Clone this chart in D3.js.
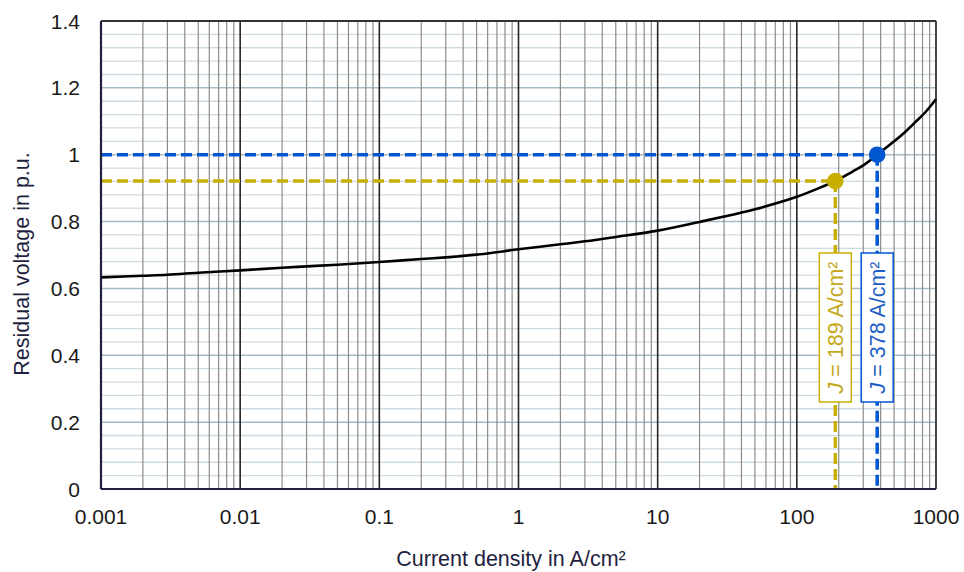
<!DOCTYPE html>
<html>
<head>
<meta charset="utf-8">
<script src="https://cdn.jsdelivr.net/npm/d3@7"></script>
<style>
  body { margin: 0; background: #fff; }
  svg { display: block; font-family: "Liberation Sans", Arial, sans-serif; }
</style>
</head>
<body>
<svg id="chart" width="964" height="572"></svg>
<script>
// ---- data ----
const currentDensity = [0.001, 0.002, 0.003, 0.005, 0.01, 0.02, 0.03, 0.05, 0.1, 0.2, 0.3, 0.5, 1, 2, 3, 5, 10, 20, 30, 50, 100, 150, 189, 250, 300, 378, 500, 600, 700, 850, 1000];
const residualVoltage = [0.633, 0.638, 0.641, 0.647, 0.654, 0.662, 0.666, 0.671, 0.679, 0.688, 0.693, 0.701, 0.717, 0.732, 0.741, 0.754, 0.773, 0.799, 0.815, 0.837, 0.874, 0.903, 0.921, 0.949, 0.968, 1.0, 1.04, 1.068, 1.095, 1.13, 1.166];
const markerJ = [189, 378];
const markerU = [0.921, 1.0];
const markerLabels = ["189", "378"];
const markerColors = ["#c8b000", "#0057cf"];
const markerTextColors = ["#c4a91c", "#1e5fc4"];
const xTickValues = [0.001, 0.01, 0.1, 1, 10, 100, 1000];
const xTickLabels = ["0.001", "0.01", "0.1", "1", "10", "100", "1000"];
const yTickValues = [0, 0.2, 0.4, 0.6, 0.8, 1, 1.2, 1.4];
const yTickLabels = ["0", "0.2", "0.4", "0.6", "0.8", "1", "1.2", "1.4"];

// ---- layout ----
const svg = d3.select("#chart");
const L = 101, R = 936, T = 21, B = 489;
const x = d3.scaleLog().domain([0.001, 1000]).range([L, R]);
const y = d3.scaleLinear().domain([0, 1.4]).range([B, T]);

// horizontal grid: minor every 0.04, major every 0.2
const hMinor = d3.range(0, 1.4001, 0.04).filter(v => Math.abs(v / 0.2 - Math.round(v / 0.2)) > 1e-6);
svg.append("g").selectAll("line").data(hMinor).join("line")
  .attr("x1", L).attr("x2", R).attr("y1", d => y(d)).attr("y2", d => y(d))
  .attr("stroke", "#cfdbe3").attr("stroke-width", 1.3);
svg.append("g").selectAll("line").data(yTickValues.slice(1, -1)).join("line")
  .attr("x1", L).attr("x2", R).attr("y1", d => y(d)).attr("y2", d => y(d))
  .attr("stroke", "#a6bac6").attr("stroke-width", 1.5);

// vertical grid: minor 2..9 per decade, major at decades
const vMinor = [];
for (let e = -3; e < 3; e++) for (let m = 2; m <= 9; m++) vMinor.push(m * Math.pow(10, e));
svg.append("g").selectAll("line").data(vMinor).join("line")
  .attr("x1", d => x(d)).attr("x2", d => x(d)).attr("y1", T).attr("y2", B)
  .attr("stroke", "#8c8c8c").attr("stroke-width", 1.2);
svg.append("g").selectAll("line").data(xTickValues.slice(1, -1)).join("line")
  .attr("x1", d => x(d)).attr("x2", d => x(d)).attr("y1", T).attr("y2", B)
  .attr("stroke", "#262626").attr("stroke-width", 1.6);

// frame
svg.append("line").attr("x1", L).attr("x2", R).attr("y1", T).attr("y2", T).attr("stroke", "#333").attr("stroke-width", 1.8);
svg.append("line").attr("x1", R).attr("x2", R).attr("y1", T).attr("y2", B).attr("stroke", "#333").attr("stroke-width", 1.8);

// dashed guide lines
const pts = markerJ.map((j, i) => ({ j, u: markerU[i], label: markerLabels[i], c: markerColors[i], tc: markerTextColors[i] }));
const guides = svg.append("g");
pts.forEach(p => {
  guides.append("line").attr("x1", L).attr("x2", x(p.j)).attr("y1", y(p.u)).attr("y2", y(p.u))
    .attr("stroke", p.c).attr("stroke-width", 3.5).attr("stroke-dasharray", "11,5");
  guides.append("line").attr("x1", x(p.j)).attr("x2", x(p.j)).attr("y1", y(p.u)).attr("y2", B)
    .attr("stroke", p.c).attr("stroke-width", 3.5).attr("stroke-dasharray", "11,5");
});

// axes lines (left & bottom)
svg.append("line").attr("x1", L).attr("x2", L).attr("y1", T).attr("y2", B).attr("stroke", "#1f1f3f").attr("stroke-width", 2.2);
svg.append("line").attr("x1", L).attr("x2", R).attr("y1", B).attr("y2", B).attr("stroke", "#1f1f3f").attr("stroke-width", 2.2);

// curve
const line = d3.line().x(d => x(d[0])).y(d => y(d[1])).curve(d3.curveMonotoneX);
svg.append("path").datum(currentDensity.map((c, i) => [c, residualVoltage[i]]))
  .attr("d", line).attr("fill", "none").attr("stroke", "#000").attr("stroke-width", 2.6);

// markers
svg.append("g").selectAll("circle").data(pts).join("circle")
  .attr("cx", d => x(d.j)).attr("cy", d => y(d.u)).attr("r", 8.3).attr("fill", d => d.c);

// label boxes
const boxTop = 253, boxBot = 402, boxW = 32;
pts.forEach(p => {
  const cx = x(p.j);
  svg.append("rect").attr("x", cx - boxW / 2).attr("y", boxTop).attr("width", boxW).attr("height", boxBot - boxTop)
    .attr("fill", "#fff").attr("stroke", p.c).attr("stroke-width", 1.5);
  const t = svg.append("text")
    .attr("transform", `translate(${cx + 7.8},${(boxTop + boxBot) / 2}) rotate(-90)`)
    .attr("text-anchor", "middle").attr("font-size", 21.5).attr("fill", p.tc);
  t.append("tspan").attr("font-style", "italic").text("J");
  t.append("tspan").text(` = ${p.label} A/cm²`);
});

// tick labels
svg.append("g").selectAll("text").data(yTickValues).join("text")
  .attr("x", 80).attr("y", d => y(d)).attr("dy", "0.36em").attr("text-anchor", "end")
  .attr("font-size", 21).attr("fill", "#1a1a1a").text((d, i) => yTickLabels[i]);
svg.append("g").selectAll("text").data(xTickValues).join("text")
  .attr("x", d => x(d)).attr("y", 524).attr("text-anchor", "middle")
  .attr("font-size", 21).attr("fill", "#1a1a1a").text((d, i) => xTickLabels[i]);

// axis titles
svg.append("text").attr("x", 511).attr("y", 566).attr("text-anchor", "middle")
  .attr("font-size", 21.5).attr("fill", "#1f1f3f").text("Current density in A/cm²");
svg.append("text").attr("transform", `translate(29,264) rotate(-90)`).attr("text-anchor", "middle")
  .attr("font-size", 21.5).attr("fill", "#1f1f3f").text("Residual voltage in p.u.");
</script>
</body>
</html>
